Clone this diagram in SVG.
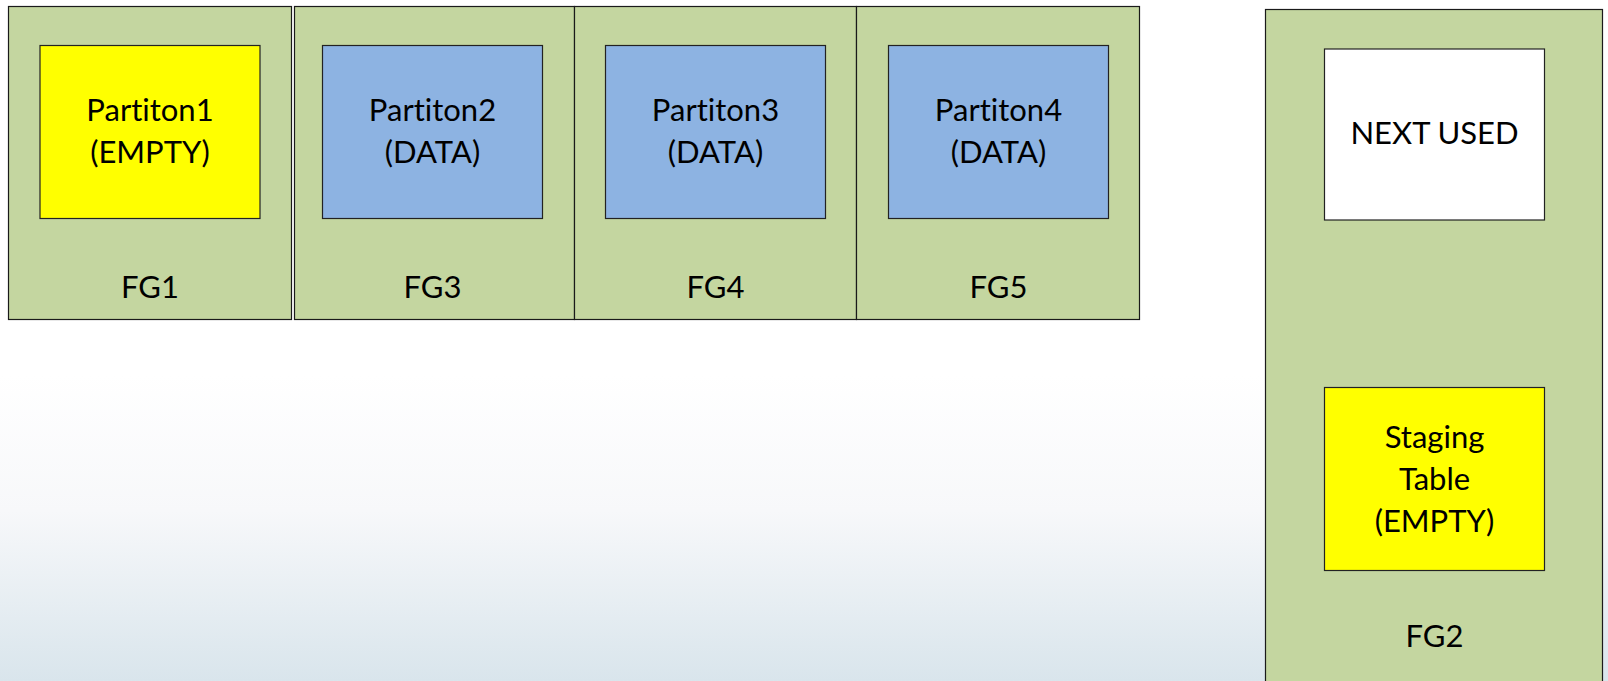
<svg xmlns="http://www.w3.org/2000/svg" width="1608" height="681" viewBox="0 0 1608 681">
  <defs>
    <linearGradient id="bg" x1="0" y1="0" x2="0" y2="1">
      <stop offset="0" stop-color="#ffffff"/>
      <stop offset="0.55" stop-color="#ffffff"/>
      <stop offset="0.75" stop-color="#f7f8fa"/>
      <stop offset="1" stop-color="#d9e5ec"/>
    </linearGradient>
  </defs>
  <style>
    .fg { fill: #c4d6a0; stroke: #1a1a1a; stroke-width: 1.2; }
    .empty { fill: #ffff00; stroke: #222; stroke-width: 1.2; }
    .data { fill: #8db3e2; stroke: #222; stroke-width: 1.2; }
    .blank { fill: #ffffff; stroke: #222; stroke-width: 1.2; }
    text { font-family: Lato, "Open Sans", "Liberation Sans", sans-serif; font-size: 31px; fill: #000; text-anchor: middle; font-variant-ligatures: none; }
  </style>

  <rect width="1608" height="681" fill="url(#bg)"/>

  <!-- filegroup FG1 -->
  <g id="fg1">
    <rect class="fg" x="8.5" y="6.5" width="283" height="313"/>
    <rect class="empty" x="40" y="45.5" width="220" height="173"/>
    <text x="150" y="121">Partiton1</text>
    <text x="150" y="163">(EMPTY)</text>
    <text x="150" y="298">FG1</text>
  </g>

  <!-- filegroup FG3 -->
  <g id="fg3">
    <rect class="fg" x="294.5" y="6.5" width="280" height="313"/>
    <rect class="data" x="322.5" y="45.5" width="220" height="173"/>
    <text x="432.5" y="121">Partiton2</text>
    <text x="432.5" y="163">(DATA)</text>
    <text x="432.5" y="298">FG3</text>
  </g>

  <!-- filegroup FG4 -->
  <g id="fg4">
    <rect class="fg" x="574.5" y="6.5" width="282" height="313"/>
    <rect class="data" x="605.5" y="45.5" width="220" height="173"/>
    <text x="715.5" y="121">Partiton3</text>
    <text x="715.5" y="163">(DATA)</text>
    <text x="715.5" y="298">FG4</text>
  </g>

  <!-- filegroup FG5 -->
  <g id="fg5">
    <rect class="fg" x="856.5" y="6.5" width="283" height="313"/>
    <rect class="data" x="888.5" y="45.5" width="220" height="173"/>
    <text x="998.5" y="121">Partiton4</text>
    <text x="998.5" y="163">(DATA)</text>
    <text x="998.5" y="298">FG5</text>
  </g>

  <!-- filegroup FG2 with NEXT USED and staging table -->
  <g id="fg2">
    <rect class="fg" x="1265.5" y="9.5" width="337" height="690"/>
    <rect class="blank" x="1324.5" y="49" width="220" height="171"/>
    <text x="1434.5" y="144">NEXT USED</text>
    <rect class="empty" x="1324.5" y="387.5" width="220" height="183"/>
    <text x="1434.5" y="448">Staging</text>
    <text x="1434.5" y="490">Table</text>
    <text x="1434.5" y="532">(EMPTY)</text>
    <text x="1434.5" y="647">FG2</text>
  </g>

  <g id="connectors"/>
</svg>
